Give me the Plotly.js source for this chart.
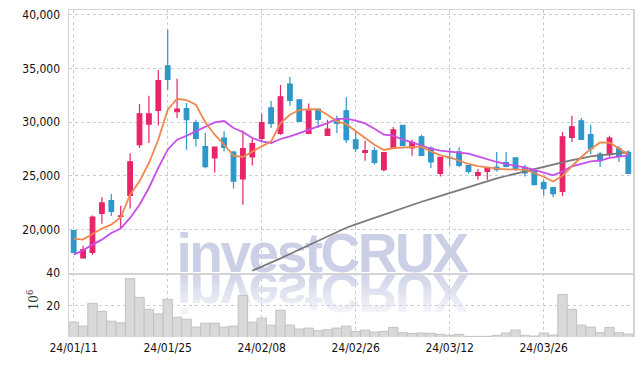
<!DOCTYPE html>
<html><head><meta charset="utf-8">
<script src="https://cdn.plot.ly/plotly-3.0.1.min.js"></script>
<style>
html,body{margin:0;padding:0;background:#fff;}
#wrap{position:relative;width:643px;height:366px;overflow:hidden;}
#chart{position:absolute;left:0;top:0;width:643px;height:366px;z-index:1;}
.wm{position:absolute;left:0;width:643px;text-align:center;font-family:'Liberation Sans',Arial,sans-serif;font-weight:bold;font-size:55px;letter-spacing:-2.5px;line-height:55px;height:55px;z-index:0;white-space:nowrap;}
#wm1{top:226px;color:#cbd0e6;}
#wm2{top:265px;color:#d3d7e9;transform:scaleY(-1);-webkit-mask-image:linear-gradient(to top,rgba(0,0,0,1) 25%,rgba(0,0,0,0.1) 100%);mask-image:linear-gradient(to top,rgba(0,0,0,1) 25%,rgba(0,0,0,0.1) 100%);}
</style></head>
<body>
<div id="wrap">
<div class="wm" id="wm1">investCRUX</div>
<div class="wm" id="wm2">investCRUX</div>
<div id="chart"></div>
</div>
<script>
const dates = ["24/01/11","24/01/12","24/01/15","24/01/16","24/01/17","24/01/18","24/01/19","24/01/22","24/01/23","24/01/24",
"24/01/25","24/01/26","24/01/29","24/01/30","24/01/31","24/02/01","24/02/02","24/02/05","24/02/06","24/02/07",
"24/02/08","24/02/13","24/02/14","24/02/15","24/02/16","24/02/19","24/02/20","24/02/21","24/02/22","24/02/23",
"24/02/26","24/02/27","24/02/28","24/02/29","24/03/04","24/03/05","24/03/06","24/03/07","24/03/08","24/03/11",
"24/03/12","24/03/13","24/03/14","24/03/15","24/03/18","24/03/19","24/03/20","24/03/21","24/03/22","24/03/25",
"24/03/26","24/03/27","24/03/28","24/03/29","24/04/01","24/04/02","24/04/03","24/04/04","24/04/05","24/04/08"];

const openP = [19880,17340,17860,21490,22670,21200,23170,27890,29810,31080,
35240,30960,31240,29935,27700,26650,28510,27200,24690,26740,
28470,31330,28940,33540,32075,28940,31210,28750,30280,31050,
28350,27170,27330,25560,27580,29680,27580,28630,27580,25215,
26700,27210,25930,25030,25400,25790,26210,26650,25780,25400,
24350,23880,23540,28565,30120,28820,27020,26955,27510,27170];
const highP = [19900,18480,21300,22980,23300,22200,27100,31680,32450,34840,
38590,34030,31770,30210,29000,27700,29130,27330,29220,28510,
30745,31955,33445,34190,32100,31730,31250,30210,30615,32300,
29130,28260,27640,27200,29535,29750,28350,28820,27730,26750,
27600,27640,25950,25625,25700,27210,27210,26650,26025,25650,
24630,23900,29070,30590,30370,29750,27210,28725,27765,27360];
const lowP = [17800,17250,17600,20530,21250,20100,21950,27580,28050,29680,
33000,30370,27420,27730,25700,25300,27260,23800,22300,25960,
28190,29440,28820,31520,30000,28900,29440,28700,28975,28050,
27210,26400,26025,25400,27500,27750,26860,26800,25720,24935,
25870,25780,25185,24630,24630,25400,25780,25470,24935,24100,
23140,22980,23110,28140,28350,27020,25810,26770,26275,25215];
const closeP = [17860,18110,21150,22460,21680,21250,26300,30770,30770,33850,
33970,31210,30210,28470,25840,27670,27640,24500,27515,27980,
29935,29870,32355,32010,30055,31050,30240,29350,29870,28350,
27510,27330,26240,27140,29280,27820,28100,26890,26275,26700,
26650,25960,25400,25280,25650,25560,25870,25650,25250,24160,
23790,23325,28630,29560,28380,27510,26400,28510,26800,25215];

const maShort = [19135,19040,19570,20070,20440,21120,23230,24470,26180,28350,
31145,32170,32050,31610,29980,28820,27890,26860,26740,27260,
27730,28190,29900,30680,31120,31210,31170,30680,30055,29800,
29125,28510,27890,27395,27580,27640,27700,27700,27260,26890,
26705,26400,26090,25900,25750,25650,25590,25600,25560,25250,
24900,24450,25000,25880,26740,27480,28100,28070,27520,27000];
const maMid = [17645,18045,18575,19040,19665,20070,21060,22300,23855,25720,
27420,28350,28725,29125,29520,29960,30090,29440,29070,28510,
28190,28045,28420,28660,28975,29280,29535,29900,30300,30320,
30120,29870,29380,28820,28725,28350,28100,27820,27510,27330,
27260,27170,27050,26800,26520,26275,26090,25960,25780,25530,
25250,25030,25400,25870,26090,26330,26400,26650,26770,26890];
const maLong = [null,null,null,null,null,null,null,null,null,null,
null,null,null,null,null,null,null,null,null,16150,
16520,16880,17290,17700,18110,18520,18930,19340,19750,20150,
20460,20770,21080,21390,21690,22000,22300,22570,22840,23120,
23390,23680,23960,24250,24530,24750,24970,25180,25400,25630,
25860,26090,26270,26450,26620,26800,26900,27000,27090,27170];

const volume = [10.2,7.8,21.6,16.8,10.8,9.8,36.6,25.2,18.0,15.2,
24.0,13.2,12.0,7.2,9.6,9.6,7.2,7.8,26.4,10.2,
12.6,8.4,17.4,8.4,6.0,6.6,5.0,5.6,6.6,7.8,
4.6,5.4,4.2,4.6,7.0,3.8,3.4,3.6,3.4,2.8,
2.2,2.8,1.6,1.6,1.6,2.2,3.6,5.4,2.2,1.8,
3.6,2.4,27.0,18.0,8.4,7.2,3.8,7.0,3.8,3.0];

const xTicks = ["24/01/11","24/01/25","24/02/08","24/02/26","24/03/12","24/03/26"];
const priceTicks = [20000,25000,30000,35000,40000];
const volTicks = [20,40];

const upColor = '#e8246a', downColor = '#2f97c9';
const gridC = '#c8cce0', lineC = '#d4d4d8';

const traces = [
  {type:'bar', x:dates, y:volume, xaxis:'x2', yaxis:'y2',
   marker:{color:'#d9d9d9', line:{color:'#c2c2c2', width:1}}, hoverinfo:'skip'},
  {type:'candlestick', x:dates, open:openP, high:highP, low:lowP, close:closeP,
   xaxis:'x', yaxis:'y', whiskerwidth:0,
   increasing:{line:{color:upColor, width:1.2}, fillcolor:upColor},
   decreasing:{line:{color:downColor, width:1.2}, fillcolor:downColor}},
  {type:'scatter', mode:'lines', x:dates, y:maLong, xaxis:'x', yaxis:'y',
   line:{color:'#7a7a7a', width:1.8}, connectgaps:false},
  {type:'scatter', mode:'lines', x:dates, y:maMid, xaxis:'x', yaxis:'y',
   line:{color:'#c84ee8', width:1.8}},
  {type:'scatter', mode:'lines', x:dates, y:maShort, xaxis:'x', yaxis:'y',
   line:{color:'#f0884e', width:1.8}}
];

const tickFont = {family:"'DejaVu Sans Condensed','DejaVu Sans',sans-serif", size:12, color:'#111'};
const split = 0.1957;
const layout = {
  width:643, height:366,
  margin:{l:69, r:10, t:10, b:29, pad:0},
  paper_bgcolor:'rgba(0,0,0,0)', plot_bgcolor:'rgba(0,0,0,0)',
  showlegend:false, bargap:0,
  font:tickFont,
  xaxis:{type:'category', range:[-0.5,59.5], anchor:'y', domain:[0,1],
    tickmode:'array', tickvals:xTicks, ticktext:xTicks, showticklabels:false,
    showgrid:true, gridcolor:gridC, griddash:'dot', gridwidth:1,
    showline:true, mirror:true, linecolor:lineC, linewidth:1.5, ticks:'',
    rangeslider:{visible:false}},
  yaxis:{domain:[split,1], range:[15930,40440], anchor:'x',
    tickmode:'array', tickvals:priceTicks, tickformat:',d',
    showgrid:true, gridcolor:gridC, griddash:'dot', gridwidth:1,
    showline:true, mirror:true, linecolor:lineC, linewidth:1.5, zeroline:false,
    ticks:'', ticklabelstandoff:5, tickfont:tickFont},
  xaxis2:{type:'category', range:[-0.5,59.5], anchor:'y2', domain:[0,1], matches:'x',
    tickmode:'array', tickvals:xTicks, ticktext:xTicks, showticklabels:true,
    showgrid:true, gridcolor:gridC, griddash:'dot', gridwidth:1,
    showline:false, ticks:'', ticklabelstandoff:2, tickfont:tickFont},
  yaxis2:{domain:[0,split], range:[1.2,40], anchor:'x2',
    tickmode:'array', tickvals:volTicks,
    showgrid:true, gridcolor:gridC, griddash:'dot', gridwidth:1,
    showline:true, mirror:true, linecolor:lineC, linewidth:1.5, zeroline:false,
    ticks:'', ticklabelstandoff:5, tickfont:tickFont},
  annotations:[{text:'10<sup>6</sup>', xref:'paper', yref:'paper', x:-0.064, y:0.115,
    xanchor:'center', yanchor:'middle', textangle:-90, showarrow:false,
    font:{family:"'DejaVu Serif',serif", size:12, color:'#333'}}]
};

Plotly.newPlot('chart', traces, layout, {displayModeBar:false, staticPlot:true});
</script>
</body></html>
